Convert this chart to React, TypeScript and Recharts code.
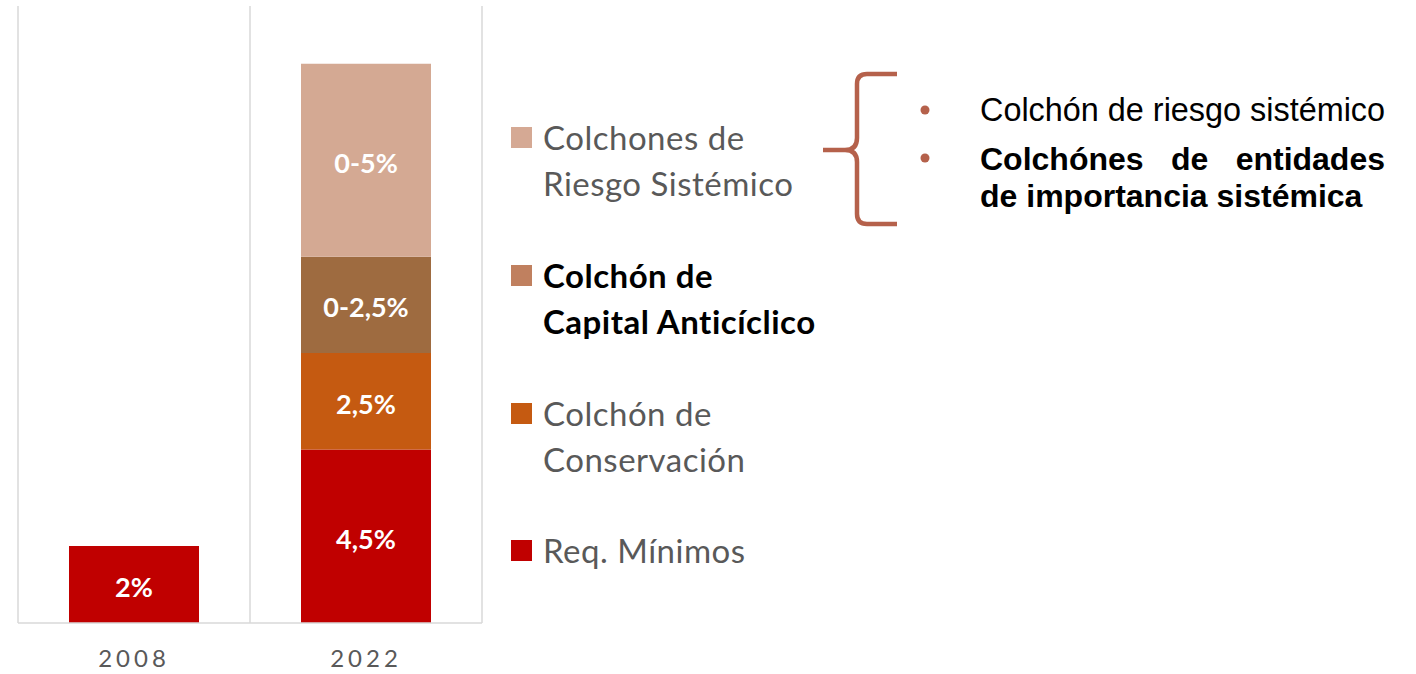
import { BarChart, Bar, XAxis, YAxis, CartesianGrid, LabelList } from 'recharts';

const years = ['2008', '2022'];
const reqMinimos = [2, 4.5];
const conservacion = [0, 2.5];
const anticiclico = [0, 2.5];
const riesgoSistemico = [0, 5];

const minimosLabels = ['2%', '4,5%'];
const conservacionLabels = [null, '2,5%'];
const anticiclicoLabels = [null, '0-2,5%'];
const sistemicoLabels = [null, '0-5%'];

const legendItems = [
  { lines: ['Colchones de', 'Riesgo Sistémico'], swatch: '#d5a994', bold: false },
  { lines: ['Colchón de', 'Capital Anticíclico'], swatch: '#c0805f', bold: true },
  { lines: ['Colchón de', 'Conservación'], swatch: '#c55a11', bold: false },
  { lines: ['Req. Mínimos'], swatch: '#c00000', bold: false },
];

const bulletItems = [
  { text: 'Colchón de riesgo sistémico', bold: false },
  { text: 'Colchónes de entidades de importancia sistémica', bold: true },
];

const data = years.map((year, i) => ({
  year,
  minimos: reqMinimos[i],
  conservacion: conservacion[i],
  anticiclico: anticiclico[i],
  sistemico: riesgoSistemico[i],
  minimosLabel: minimosLabels[i],
  conservacionLabel: conservacionLabels[i],
  anticiclicoLabel: anticiclicoLabels[i],
  sistemicoLabel: sistemicoLabels[i],
}));

const labelStyle = { fill: '#ffffff', fontSize: 27, fontWeight: 700, fontFamily: 'Lato' };
const legendTops = [114, 252, 390, 527];

export default function App() {
  return (
    <div style={{ position: 'absolute', left: 0, top: 0, width: 1416, height: 674, background: '#fff', fontFamily: 'Lato' }}>
      <BarChart
        width={500}
        height={674}
        data={data}
        margin={{ top: 6, right: 18, bottom: 11, left: 18 }}
        barSize={130}
      >
        <CartesianGrid
          horizontal={false}
          stroke="#d9d9d9"
          strokeWidth={1.5}
          verticalCoordinatesGenerator={({ offset }: any) => [
            offset.left,
            offset.left + offset.width / 2,
            offset.left + offset.width,
          ]}
        />
        <XAxis
          dataKey="year"
          height={40}
          tickLine={false}
          tickMargin={21}
          axisLine={{ stroke: '#d9d9d9', strokeWidth: 1.5 }}
          tick={{ fill: '#595959', fontSize: 24, letterSpacing: 4, fontFamily: 'Lato' }}
        />
        <YAxis hide domain={[0, 16]} width={0} />
        <Bar dataKey="minimos" stackId="a" fill="#c00000" isAnimationActive={false}>
          <LabelList dataKey="minimosLabel" position="center" dy={3} style={labelStyle} />
        </Bar>
        <Bar dataKey="conservacion" stackId="a" fill="#c55a11" isAnimationActive={false}>
          <LabelList dataKey="conservacionLabel" position="center" dy={3} style={labelStyle} />
        </Bar>
        <Bar dataKey="anticiclico" stackId="a" fill="#9e6b40" isAnimationActive={false}>
          <LabelList dataKey="anticiclicoLabel" position="center" dy={3} style={labelStyle} />
        </Bar>
        <Bar dataKey="sistemico" stackId="a" fill="#d4a993" isAnimationActive={false}>
          <LabelList dataKey="sistemicoLabel" position="center" dy={3} style={labelStyle} />
        </Bar>
      </BarChart>

      {legendItems.map((item, i) => (
        <div key={i} style={{ position: 'absolute', left: 511, top: legendTops[i] }}>
          <div style={{ position: 'absolute', left: 0, top: 13, width: 21, height: 21, background: item.swatch }} />
          <div
            style={{
              position: 'absolute',
              left: 32,
              top: 0,
              whiteSpace: 'nowrap',
              fontSize: 33,
              letterSpacing: 0.5,
              lineHeight: '46px',
              color: item.bold ? '#000' : '#595959',
              fontWeight: item.bold ? 700 : 400,
            }}
          >
            {item.lines.map((l, j) => (
              <div key={j}>{l}</div>
            ))}
          </div>
        </div>
      ))}

      <svg width={1416} height={674} style={{ position: 'absolute', left: 0, top: 0, pointerEvents: 'none' }}>
        <path
          d="M 897 74 H 867 Q 857 74 857 84 V 138 Q 857 150 845 150 H 823 H 845 Q 857 150 857 162 V 214 Q 857 224 867 224 H 897"
          fill="none"
          stroke="#b5614b"
          strokeWidth={4.5}
        />
        <circle cx={925} cy={110} r={4.5} fill="#b5614b" />
        <circle cx={925} cy={158} r={4.5} fill="#b5614b" />
      </svg>

      <div
        style={{
          position: 'absolute',
          left: 980,
          top: 92,
          fontFamily: 'Liberation Sans',
          fontSize: 32.4,
          lineHeight: '36px',
          whiteSpace: 'nowrap',
          color: '#000',
        }}
      >
        {bulletItems[0].text}
      </div>
      <div
        style={{
          position: 'absolute',
          left: 980,
          top: 141,
          width: 405,
          fontFamily: 'Liberation Sans',
          fontSize: 32,
          lineHeight: '37px',
          fontWeight: 700,
          textAlign: 'justify',
          color: '#000',
        }}
      >
        {bulletItems[1].text}
      </div>
    </div>
  );
}
